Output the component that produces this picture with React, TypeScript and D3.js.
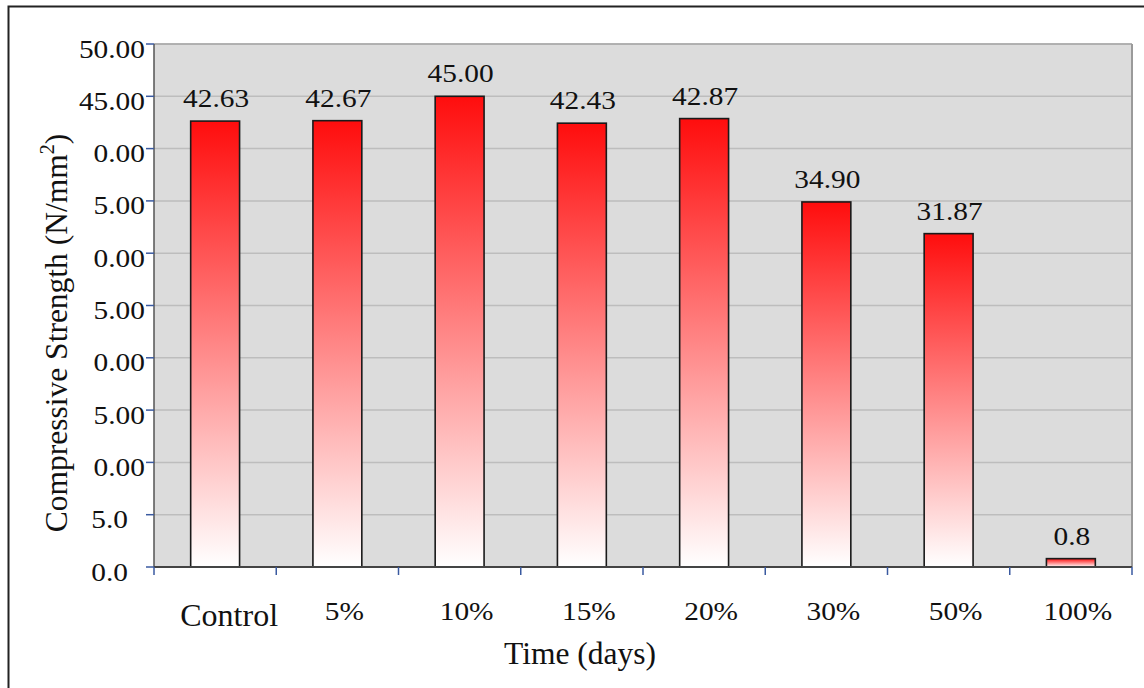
import React from "react";
import * as d3 from "d3";

const categories = ["Control", "5%", "10%", "15%", "20%", "30%", "50%", "100%"];
const strengths = [42.63, 42.67, 45.0, 42.43, 42.87, 34.9, 31.87, 0.8];
const valueLabels = ["42.63", "42.67", "45.00", "42.43", "42.87", "34.90", "31.87", "0.8"];
const yTickValues = [50, 45, 40, 35, 30, 25, 20, 15, 10, 5, 0];
const yTickLabels = ["50.00", "45.00", "0.00", "5.00", "0.00", "5.00", "0.00", "5.00", "0.00", "5.0", "0.0"];
const xTitle = "Time (days)";
const yTitle = "Compressive Strength (N/mm";

const W = 1144;
const H = 688;
const plot = { left: 154, right: 1132, top: 44, bottom: 567 };
const FONT = "'Liberation Serif', 'Times New Roman', serif";
const SX = 1.13;

export default function App() {
  const x = d3
    .scaleBand<string>()
    .domain(categories)
    .range([plot.left, plot.right])
    .paddingInner(0.6)
    .paddingOuter(0.3);
  const y = d3.scaleLinear().domain([0, 50]).range([plot.bottom, plot.top]);
  const step = x.step();
  const bw = x.bandwidth();
  const boundaries = categories.map((c) => (x(c) as number) + bw / 2 - step / 2);
  boundaries.push(plot.right);

  const stretched = (
    key: string | number,
    tx: number,
    ty: number,
    txt: string,
    anchor: string,
    size: number
  ) => (
    <text
      key={key}
      transform={`translate(${tx},${ty}) scale(${SX},1)`}
      textAnchor={anchor}
      fontSize={size}
      fontFamily={FONT}
      fill="#111"
    >
      {txt}
    </text>
  );

  return (
    <svg
      width={W}
      height={H}
      style={{ position: "absolute", left: 0, top: 0, background: "#fff" }}
    >
      <defs>
        <linearGradient id="barGrad" x1="0" y1="0" x2="0" y2="1">
          <stop offset="0%" stopColor="#ff0d0d" />
          <stop offset="100%" stopColor="#ffffff" />
        </linearGradient>
      </defs>
      {/* outer frame */}
      <path d={`M8.5,${H} V6.5 H${W}`} fill="none" stroke="#222" strokeWidth={2} />

      {/* plot background */}
      <rect
        x={plot.left}
        y={plot.top}
        width={plot.right - plot.left}
        height={plot.bottom - plot.top}
        fill="#dcdcdc"
      />
      {/* grid */}
      {yTickValues.map((v) => (
        <line
          key={"g" + v}
          x1={plot.left}
          x2={plot.right}
          y1={y(v)}
          y2={y(v)}
          stroke="#bdbdbd"
          strokeWidth={1.5}
        />
      ))}
      {/* top and right borders */}
      <line x1={plot.left} x2={plot.right} y1={plot.top} y2={plot.top} stroke="#a8a8a8" strokeWidth={1.5} />
      <line x1={plot.right} x2={plot.right} y1={plot.top} y2={plot.bottom} stroke="#9a9a9a" strokeWidth={2} />

      {/* bars */}
      {categories.map((c, i) => (
        <rect
          key={"b" + c}
          x={x(c)}
          y={y(strengths[i])}
          width={bw}
          height={plot.bottom - y(strengths[i])}
          fill="url(#barGrad)"
          stroke="#1a1a1a"
          strokeWidth={1.6}
        />
      ))}

      {/* axes */}
      <line x1={plot.left} x2={plot.left} y1={plot.top} y2={plot.bottom} stroke="#555" strokeWidth={1.5} />
      <line x1={plot.left} x2={plot.right} y1={plot.bottom} y2={plot.bottom} stroke="#444" strokeWidth={2} />

      {/* y ticks */}
      {yTickValues.map((v, i) => (
        <g key={"yt" + v}>
          <line x1={plot.left - 8} x2={plot.left} y1={y(v)} y2={y(v)} stroke="#3a5aa0" strokeWidth={1.5} />
          {stretched(
            "yl" + i,
            yTickLabels[i].length > 3 ? 145 : 128,
            y(v) + 13.5,
            yTickLabels[i],
            "end",
            26
          )}
        </g>
      ))}

      {/* x ticks */}
      {boundaries.map((b, i) => (
        <line key={"xt" + i} x1={b} x2={b} y1={plot.bottom} y2={plot.bottom + 8} stroke="#3a5aa0" strokeWidth={1.5} />
      ))}

      {/* value labels */}
      {categories.map((c, i) =>
        stretched("v" + c, (x(c) as number) + bw / 2 + 1, y(strengths[i]) - 14, valueLabels[i], "middle", 26)
      )}

      {/* category labels */}
      {categories.map((c, i) =>
        i === 0 ? (
          <text
            key={"c" + c}
            x={(x(c) as number) + bw / 2 + 14}
            y={626}
            textAnchor="middle"
            fontSize={32}
            fontFamily={FONT}
            fill="#111"
          >
            {c}
          </text>
        ) : (
          stretched("c" + c, (x(c) as number) + bw / 2 + 7, 620, c, "middle", 26)
        )
      )}

      {/* axis titles */}
      <text x={580} y={664} textAnchor="middle" fontSize={31.5} fontFamily={FONT} fill="#111">
        {xTitle}
      </text>
      <text
        transform="translate(67,333) rotate(-90)"
        textAnchor="middle"
        fontSize={31.5}
        fontFamily={FONT}
        fill="#111"
      >
        {yTitle}
        <tspan fontSize={20} dy={-13}>
          2
        </tspan>
        <tspan dy={13}>)</tspan>
      </text>
    </svg>
  );
}
